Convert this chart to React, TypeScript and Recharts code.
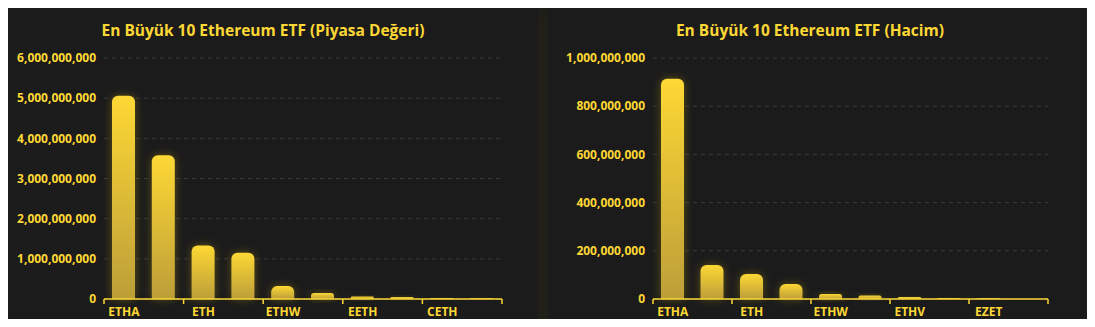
import { BarChart, Bar, XAxis, YAxis, CartesianGrid } from 'recharts';

// Piyasa değeri (market cap)
const capTickers = ['ETHA', 'ETHE', 'ETH', 'FETH', 'ETHW', 'ETHV', 'EETH', 'EZET', 'CETH', 'QETH'];
const capValues = [5060000000, 3580000000, 1330000000, 1150000000, 325000000, 150000000, 65000000, 50000000, 22000000, 20000000];
const capTicks = [0, 1000000000, 2000000000, 3000000000, 4000000000, 5000000000, 6000000000];

// Hacim (volume)
const volTickers = ['ETHA', 'FETH', 'ETH', 'ETHE', 'ETHW', 'FETH2', 'ETHV', 'EETH', 'EZET', 'QETH'];
const volValues = [914000000, 141000000, 104000000, 62000000, 21000000, 15000000, 8000000, 4000000, 3000000, 500000];
const volTicks = [0, 200000000, 400000000, 600000000, 800000000, 1000000000];

const YELLOW = '#fdd835';
const FONT = '"Open Sans", "Noto Sans", sans-serif';

const fmt = (v: number) => v.toLocaleString('en-US');

const makeTick = (band: number, count: number) => (props: any) => {
  const { x, y, payload, index } = props;
  const axisY = y - 8;
  const last = payload.index === count - 2 || index === Math.floor((count - 1) / 2);
  return (
    <g>
      <line x1={x - band / 2} x2={x - band / 2} y1={axisY} y2={axisY + 5} stroke={YELLOW} strokeWidth={1.5} />
      {last && (
        <line x1={x + band * 1.5} x2={x + band * 1.5} y1={axisY} y2={axisY + 5} stroke={YELLOW} strokeWidth={1.5} />
      )}
      <text x={x} y={y} dy="0.71em" textAnchor="middle" fill={YELLOW} fontSize={12} fontWeight={700} fontFamily={FONT}>
        {payload.value}
      </text>
    </g>
  );
};

interface PanelProps {
  id: string;
  title: string;
  tickers: string[];
  values: number[];
  ticks: number[];
  left: number;
  width: number;
  yWidth: number;
  right: number;
  titleCenter: number;
}

const Panel = ({ id, title, tickers, values, ticks, left, width, yWidth, right, titleCenter }: PanelProps) => {
  const data = tickers.map((t, i) => ({ name: t, value: values[i] }));
  const band = (width - yWidth - right) / tickers.length;
  return (
    <div
      style={{
        position: 'absolute',
        left,
        top: 7,
        width,
        height: 330,
        background: '#1b1b1b',
        borderTop: '1px solid #2f2f2d',
        boxShadow: '0 0 14px rgba(255, 215, 0, 0.05)',
      }}
    >
      <div
        style={{
          position: 'absolute',
          left: titleCenter - left - 250,
          width: 500,
          top: 11,
          textAlign: 'center',
          color: YELLOW,
          fontFamily: FONT,
          fontWeight: 700,
          fontSize: 15.5,
        }}
      >
        {title}
      </div>
      <BarChart width={width} height={325} data={data} margin={{ top: 50, right, bottom: 4, left: 0 }}>
        <defs>
          <linearGradient id={`grad-${id}`} x1="0" y1="0" x2="0" y2="1">
            <stop offset="0%" stopColor="#fdd835" />
            <stop offset="100%" stopColor="#bc9e38" />
          </linearGradient>
          <filter id={`glow-${id}`} x="-50%" y="-50%" width="200%" height="200%">
            <feDropShadow dx="0" dy="0" stdDeviation="4" floodColor="#ffd700" floodOpacity="0.3" />
          </filter>
        </defs>
        <CartesianGrid vertical={false} stroke="#3a3a3a" strokeDasharray="4 4" />
        <XAxis
          dataKey="name"
          interval={1}
          height={30}
          tickLine={false}
          axisLine={{ stroke: YELLOW, strokeWidth: 1.5 }}
          tick={makeTick(band, tickers.length)}
        />
        <YAxis
          width={yWidth}
          domain={[0, ticks[ticks.length - 1]]}
          ticks={ticks}
          tickFormatter={fmt}
          axisLine={false}
          tickLine={false}
          tick={{ fill: YELLOW, fontSize: 12, fontWeight: 700, fontFamily: FONT }}
        />
        <Bar
          dataKey="value"
          barSize={23}
          fill={`url(#grad-${id})`}
          radius={[6, 6, 0, 0]}
          filter={`url(#glow-${id})`}
          isAnimationActive={false}
        />
      </BarChart>
    </div>
  );
};

export default function App() {
  return (
    <div style={{ position: 'relative', margin: -8, width: 1095, height: 327, background: '#1c1c1a', overflow: 'hidden' }}>
      <Panel
        id="cap"
        title="En Büyük 10 Ethereum ETF (Piyasa Değeri)"
        tickers={capTickers}
        values={capValues}
        ticks={capTicks}
        left={8}
        width={530}
        yWidth={96}
        right={36}
        titleCenter={263}
      />
      <Panel
        id="vol"
        title="En Büyük 10 Ethereum ETF (Hacim)"
        tickers={volTickers}
        values={volValues}
        ticks={volTicks}
        left={548}
        width={542}
        yWidth={105}
        right={42}
        titleCenter={810}
      />
    </div>
  );
}
